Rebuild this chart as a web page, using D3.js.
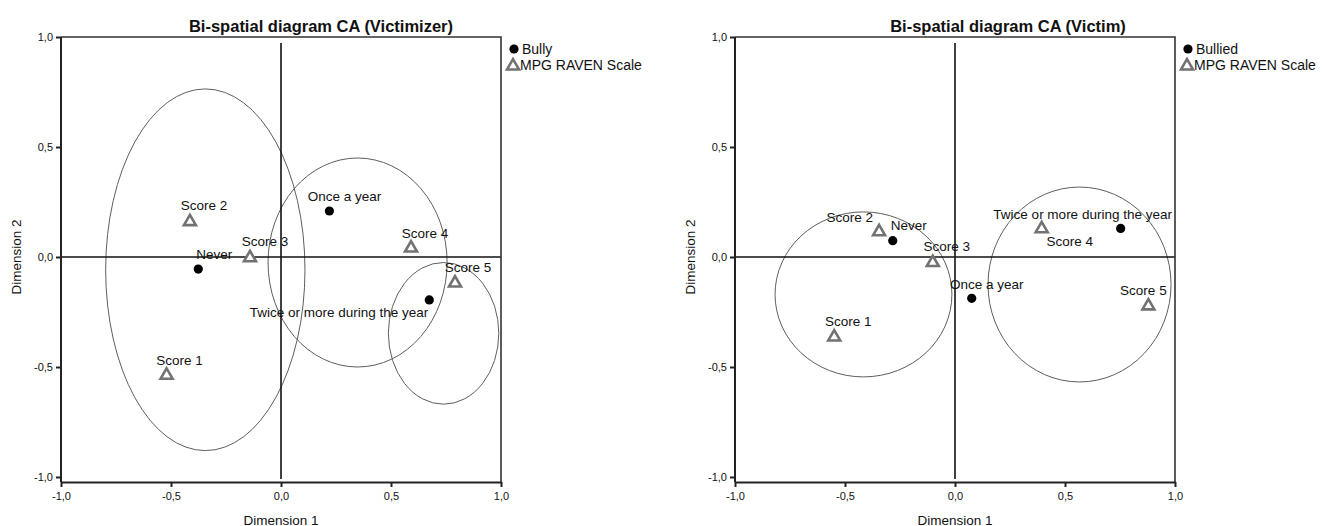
<!DOCTYPE html>
<html>
<head>
<meta charset="utf-8">
<script src="https://cdn.jsdelivr.net/npm/d3@7"></script>
<style>
  html, body { margin: 0; padding: 0; background: #fff; }
  svg { display: block; font-family: "Liberation Sans", Arial, sans-serif; }
</style>
</head>
<body>
<svg id="chart" width="1332" height="526"></svg>
<script>
// ---------------- DATA ----------------
const tickValues = [-1, -0.5, 0, 0.5, 1];
const scoreLabels = ["Score 1", "Score 2", "Score 3", "Score 4", "Score 5"];
const frequencyLabels = ["Never", "Once a year", "Twice or more during the year"];

// Victimizer panel
const bullyDim1 = [-0.376, 0.220, 0.674];
const bullyDim2 = [-0.055, 0.209, -0.195];
const ravenVictimizerDim1 = [-0.520, -0.414, -0.141, 0.591, 0.791];
const ravenVictimizerDim2 = [-0.533, 0.165, 0.001, 0.045, -0.114];
const victimizerEllipseCx = [-0.344, 0.348, 0.739];
const victimizerEllipseCy = [-0.058, -0.025, -0.347];
const victimizerEllipseRx = [0.453, 0.407, 0.251];
const victimizerEllipseRy = [0.822, 0.475, 0.322];

// Victim panel
const bulliedDim1 = [-0.283, 0.076, 0.753];
const bulliedDim2 = [0.074, -0.188, 0.130];
const ravenVictimDim1 = [-0.549, -0.345, -0.101, 0.394, 0.879];
const ravenVictimDim2 = [-0.359, 0.119, -0.021, 0.133, -0.218];
const victimEllipseCx = [-0.416, 0.566];
const victimEllipseCy = [-0.170, -0.125];
const victimEllipseRx = [0.402, 0.416];
const victimEllipseRy = [0.375, 0.443];

// ---------------- LAYOUT (pixels, styling) ----------------
const panels = [
  {
    title: "Bi-spatial diagram CA (Victimizer)",
    rowLegend: "Bully",
    left: 61, titleX: 321,
    rowD1: bullyDim1, rowD2: bullyDim2,
    colD1: ravenVictimizerDim1, colD2: ravenVictimizerDim2,
    ell: [victimizerEllipseCx, victimizerEllipseCy, victimizerEllipseRx, victimizerEllipseRy],
    rowLabelPos: [[16, -15, "middle"], [15, -15, "middle"], [-1, 13, "end"]],
    colLabelPos: [[13, -14, "middle"], [14, -15, "middle"], [15, -15, "middle"], [14, -14, "middle"], [13, -15, "middle"]]
  },
  {
    title: "Bi-spatial diagram CA (Victim)",
    rowLegend: "Bullied",
    left: 735, titleX: 1008,
    rowD1: bulliedDim1, rowD2: bulliedDim2,
    colD1: ravenVictimDim1, colD2: ravenVictimDim2,
    ell: [victimEllipseCx, victimEllipseCy, victimEllipseRx, victimEllipseRy],
    rowLabelPos: [[16, -15, "middle"], [15, -14, "middle"], [-38, -14, "middle"]],
    colLabelPos: [[14, -14, "middle"], [-6, -13, "end"], [14, -15, "middle"], [28, 14, "middle"], [-5, -14, "middle"]]
  }
];

const plotW = 440, plotTop = 37, plotH = 440;
const triColor = "#727272";
const svg = d3.select("#chart");
const fmt = v => d3.format(".1f")(v).replace(".", ",").replace("−", "-");

panels.forEach(p => {
  const x = d3.scaleLinear().domain([-1, 1]).range([p.left, p.left + plotW]);
  const y = d3.scaleLinear().domain([-1, 1]).range([plotTop + plotH, plotTop]);
  const bottom = y(-1) + 5;
  const g = svg.append("g");

  // title
  g.append("text").attr("x", p.titleX).attr("y", plotTop - 11)
    .attr("text-anchor", "middle").attr("dominant-baseline", "central")
    .attr("font-size", 16.5).attr("font-weight", "bold").attr("fill", "#111")
    .text(p.title);

  // ellipses
  const [ecx, ecy, erx, ery] = p.ell;
  g.selectAll("ellipse").data(ecx).enter().append("ellipse")
    .attr("cx", (d, i) => x(ecx[i]))
    .attr("cy", (d, i) => y(ecy[i]))
    .attr("rx", (d, i) => x(erx[i]) - x(0))
    .attr("ry", (d, i) => y(0) - y(ery[i]))
    .attr("fill", "none").attr("stroke", "#5e5e5e").attr("stroke-width", 1);

  // zero lines
  g.append("line").attr("x1", x(-1)).attr("x2", x(1)).attr("y1", y(0)).attr("y2", y(0))
    .attr("stroke", "#111").attr("stroke-width", 1.6);
  g.append("line").attr("x1", x(0)).attr("x2", x(0)).attr("y1", y(1) + 6).attr("y2", y(-1) + 2)
    .attr("stroke", "#111").attr("stroke-width", 1.6);

  // frame
  g.append("path")
    .attr("d", `M${x(-1)},${y(1)} L${x(1)},${y(1)} L${x(1)},${bottom}`)
    .attr("fill", "none").attr("stroke", "#333").attr("stroke-width", 1.6);

  // axes
  const xAxis = d3.axisBottom(x).tickValues(tickValues).tickFormat(fmt).tickSize(5).tickSizeOuter(0);
  const yAxis = d3.axisLeft(y).tickValues(tickValues).tickFormat(fmt).tickSize(5).tickSizeOuter(0);
  const xa = g.append("g").attr("transform", `translate(0,${bottom})`).call(xAxis);
  const ya = g.append("g").attr("transform", `translate(${x(-1)},0)`).call(yAxis);
  ya.select(".domain").attr("d", `M0,${y(1)}V${bottom}`);
  [xa, ya].forEach(a => {
    a.select(".domain").attr("stroke", "#222").attr("stroke-width", 2);
    a.selectAll(".tick line").attr("stroke", "#222").attr("stroke-width", 2);
    a.selectAll("text").attr("font-size", 11).attr("fill", "#111")
      .attr("font-family", "'Liberation Sans', Arial, sans-serif");
  });
  xa.selectAll("text").attr("dy", "0.95em");

  // axis titles
  g.append("text").attr("x", x(0)).attr("y", bottom + 38)
    .attr("text-anchor", "middle").attr("dominant-baseline", "central")
    .attr("font-size", 13.5).attr("fill", "#111").text("Dimension 1");
  g.append("text").attr("transform", `translate(${p.left - 45},${y(0)}) rotate(-90)`)
    .attr("text-anchor", "middle").attr("dominant-baseline", "central")
    .attr("font-size", 13.5).attr("fill", "#111").text("Dimension 2");

  // column points (triangles)
  const tri = d3.symbol().type(d3.symbolTriangle).size(62);
  g.selectAll(".col").data(scoreLabels).enter().append("path").attr("class", "col")
    .attr("d", tri)
    .attr("transform", (d, i) => `translate(${x(p.colD1[i])},${y(p.colD2[i]) + 1})`)
    .attr("fill", "#fff").attr("stroke", triColor).attr("stroke-width", 2.6)
    .attr("stroke-linejoin", "miter");

  // row points (circles)
  g.selectAll(".row").data(frequencyLabels).enter().append("circle").attr("class", "row")
    .attr("cx", (d, i) => x(p.rowD1[i])).attr("cy", (d, i) => y(p.rowD2[i]))
    .attr("r", 4.6).attr("fill", "#000");

  // labels
  const lbl = (labels, d1, d2, pos) => labels.forEach((t, i) => {
    g.append("text")
      .attr("x", x(d1[i]) + pos[i][0]).attr("y", y(d2[i]) + pos[i][1])
      .attr("text-anchor", pos[i][2]).attr("dominant-baseline", "central")
      .attr("font-size", 13.5).attr("fill", "#111").text(t);
  });
  lbl(scoreLabels, p.colD1, p.colD2, p.colLabelPos);
  lbl(frequencyLabels, p.rowD1, p.rowD2, p.rowLabelPos);

  // legend
  const lx = x(1);
  g.append("circle").attr("cx", lx + 13).attr("cy", plotTop + 12).attr("r", 4.6).attr("fill", "#000");
  g.append("text").attr("x", lx + 21).attr("y", plotTop + 12).attr("dominant-baseline", "central")
    .attr("font-size", 14).attr("fill", "#111").text(p.rowLegend);
  g.append("path").attr("d", d3.symbol().type(d3.symbolTriangle).size(62))
    .attr("transform", `translate(${lx + 12},${plotTop + 29})`)
    .attr("fill", "#fff").attr("stroke", triColor).attr("stroke-width", 2.6);
  g.append("text").attr("x", lx + 19).attr("y", plotTop + 28).attr("dominant-baseline", "central")
    .attr("font-size", 14).attr("fill", "#111").text("MPG RAVEN Scale");
});
</script>
</body>
</html>
